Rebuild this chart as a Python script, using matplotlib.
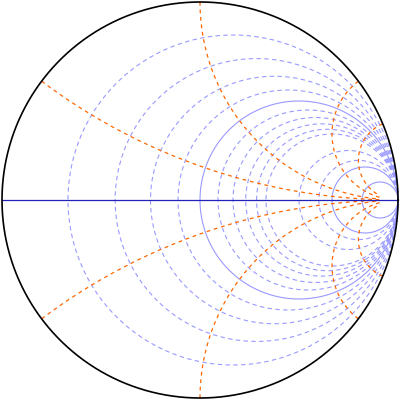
import numpy as np
import matplotlib
matplotlib.use("Agg")
import matplotlib.pyplot as plt

# constant-resistance circles
r_dashed = [0.2, 0.4, 0.6, 0.8, 1.2, 1.4, 1.6, 1.8, 2.0, 3.0, 4.0]
r_solid = [1.0, 5.0, 10.0]
# constant-reactance arcs (both signs drawn)
x_values = [1/3, 1.0, 3.0, 5.0]
r_max = 20.0

BLUE = '#9999ff'
ORANGE = '#ff6600'

fig = plt.figure(figsize=(4, 4), dpi=100)
ax = fig.add_axes([0, 0, 1, 1])
ax.set_xlim(-1.0101, 1.0101)
ax.set_ylim(-1.0101, 1.0101)
ax.set_aspect('equal')
ax.axis('off')

t = np.linspace(0, 2 * np.pi, 721)


def r_circle(r):
    c = r / (r + 1)
    rad = 1 / (r + 1)
    return c + rad * np.cos(t), rad * np.sin(t)


for r in r_dashed:
    xs, ys = r_circle(r)
    ax.plot(xs, ys, color=BLUE, lw=0.8, ls=(0, (4, 3)))
for r in r_solid:
    xs, ys = r_circle(r)
    ax.plot(xs, ys, color=BLUE, lw=0.8)

rr = np.concatenate([np.linspace(0, 2, 200), np.linspace(2, r_max, 400)])
for xv in x_values:
    for sgn in (1, -1):
        z = rr + 1j * sgn * xv
        g = (z - 1) / (z + 1)
        ax.plot(g.real, g.imag, color=ORANGE, lw=0.9, ls=(0, (3, 3)))

ax.plot([-1, 1], [0, 0], color='#2222bb', lw=0.9)
ax.plot(np.cos(t), np.sin(t), color='black', lw=1.2)

fig.savefig('out.png', dpi=100)
